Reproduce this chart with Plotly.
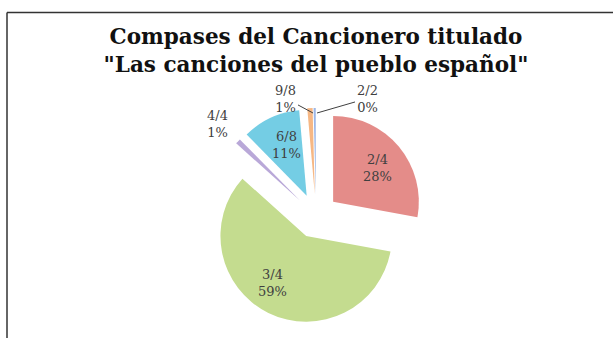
import plotly.graph_objects as go

# Time signatures found in the songbook and their share (%)
compases = ["2/4", "3/4", "4/4", "6/8", "9/8", "2/2"]
porcentajes = [28, 59, 1, 11, 1, 0.4]

colores = ["#E48C89", "#C4DC8F", "#B9A8D8", "#74CDE4", "#F6B784", "#9CB6E6"]

W, H = 613, 338
total = sum(porcentajes)

fig = go.Figure(
    go.Pie(
        labels=compases,
        values=porcentajes,
        sort=False,
        direction="clockwise",
        rotation=0,
        pull=[0.26] * len(compases),
        marker=dict(colors=colores, line=dict(width=0)),
        textinfo="none",
        domain=dict(x=[0.339, 0.692], y=[0.0414, 0.6805]),
        showlegend=False,
        hoverinfo="label+percent",
        automargin=False,
    )
)

fig.update_layout(
    width=W,
    height=H,
    autosize=False,
    margin=dict(l=0, r=0, t=0, b=0, pad=0, autoexpand=False),
    paper_bgcolor="white",
    plot_bgcolor="white",
    title=dict(
        text="Compases del Cancionero titulado<br>\"Las canciones del pueblo español\"",
        font=dict(family="DejaVu Serif", size=21.5, color="#111111", weight="bold"),
        x=316 / W,
        xanchor="center",
        y=1 - 44 / H,
        yanchor="top",
        automargin=False,
    ),
    shapes=[
        # chart frame (top and left edges)
        dict(type="line", xref="paper", yref="paper",
             x0=7 / W, y0=1 - 12.5 / H, x1=1.0, y1=1 - 12.5 / H,
             line=dict(color="#333333", width=1.5)),
        dict(type="line", xref="paper", yref="paper",
             x0=7 / W, y0=1 - 12.5 / H, x1=7 / W, y1=0.0,
             line=dict(color="#333333", width=1.5)),
    ],
)

# Data label placement (pixel centre of each label block) and, for the
# thin top slices, the point on the slice the leader line points to
label_pos = [(378, 168.5), (272, 283), (217, 123.5), (286, 145.5), (286, 98.5), (367, 98.5)]
leader_tip = [None, None, None, None, (313, 113), (317, 113)]

label_font = dict(family="DejaVu Serif", size=13, color="#404040")

for lab, val, (px, py), tip in zip(compases, porcentajes, label_pos, leader_tip):
    text = f"{lab}<br>{round(100 * val / total)}%"
    if tip is None:
        fig.add_annotation(
            text=text, xref="paper", yref="paper",
            x=px / W, y=1 - py / H, xanchor="center", yanchor="middle",
            showarrow=False, font=label_font,
        )
    else:
        tx, ty = tip
        fig.add_annotation(
            text=text, xref="paper", yref="paper",
            x=tx / W, y=1 - ty / H,
            ax=px - tx, ay=py - ty,
            showarrow=True, arrowhead=0, arrowwidth=1, arrowcolor="#404040",
            font=label_font,
        )

fig.write_html("out.html")
